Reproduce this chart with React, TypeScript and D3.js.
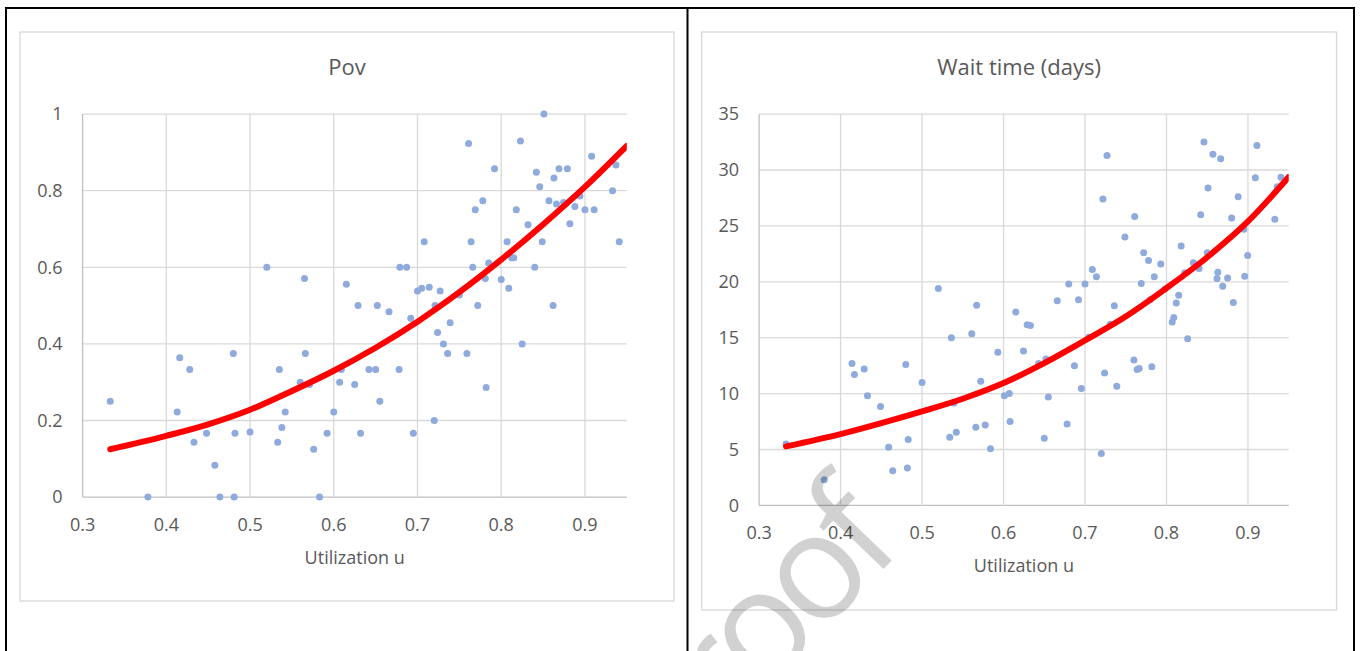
import React from "react";
import * as d3 from "d3";

// ---------- data ----------
const povU = [0.333,0.378,0.413,0.416,0.428,0.433,0.448,0.458,0.464,0.48,0.481,0.482,0.5,0.52,0.533,0.535,0.538,0.542,0.56,0.565,0.566,0.571,0.576,0.583,0.592,0.6,0.607,0.609,0.615,0.625,0.629,0.632,0.642,0.65,0.652,0.655,0.666,0.678,0.679,0.687,0.692,0.695,0.7,0.705,0.708,0.714,0.72,0.721,0.724,0.727,0.731,0.736,0.739,0.75,0.759,0.761,0.764,0.766,0.769,0.772,0.778,0.781,0.782,0.785,0.792,0.8,0.807,0.809,0.8125,0.815,0.818,0.823,0.825,0.832,0.84,0.842,0.846,0.849,0.851,0.857,0.862,0.863,0.866,0.869,0.8745,0.879,0.882,0.888,0.894,0.9,0.908,0.911,0.933,0.937,0.941];
const povV = [0.25,0,0.222,0.364,0.333,0.143,0.167,0.083,0,0.375,0,0.167,0.17,0.6,0.143,0.333,0.182,0.222,0.3,0.571,0.375,0.294,0.125,0,0.167,0.222,0.3,0.333,0.556,0.294,0.5,0.167,0.333,0.333,0.5,0.25,0.484,0.333,0.6,0.6,0.467,0.167,0.538,0.545,0.667,0.548,0.2,0.5,0.43,0.538,0.4,0.375,0.455,0.528,0.375,0.923,0.667,0.6,0.75,0.5,0.774,0.571,0.286,0.611,0.857,0.568,0.667,0.545,0.625,0.625,0.75,0.93,0.4,0.711,0.6,0.848,0.81,0.667,1.0,0.774,0.5,0.833,0.765,0.857,0.769,0.857,0.714,0.759,0.786,0.75,0.89,0.75,0.8,0.867,0.667];

const waitU = [0.333,0.38,0.414,0.417,0.429,0.433,0.449,0.459,0.464,0.48,0.482,0.483,0.5,0.52,0.534,0.536,0.539,0.542,0.561,0.566,0.567,0.572,0.5775,0.584,0.593,0.601,0.607,0.608,0.615,0.6245,0.629,0.633,0.643,0.65,0.652,0.655,0.666,0.678,0.68,0.687,0.692,0.6955,0.7,0.7045,0.709,0.714,0.72,0.722,0.724,0.727,0.731,0.736,0.739,0.749,0.76,0.761,0.764,0.7665,0.769,0.772,0.778,0.78,0.782,0.785,0.793,0.798,0.807,0.809,0.812,0.815,0.818,0.8225,0.826,0.833,0.84,0.842,0.846,0.85,0.851,0.857,0.862,0.863,0.8665,0.869,0.875,0.88,0.882,0.888,0.895,0.896,0.8996,0.909,0.911,0.933,0.936,0.9405];
const waitW = [5.5,2.3,12.7,11.7,12.2,9.8,8.85,5.2,3.1,12.6,3.35,5.9,11.0,19.4,6.1,15.0,9.15,6.55,15.35,7.0,17.9,11.1,7.2,5.07,13.7,9.8,10.0,7.5,17.3,13.8,16.15,16.1,12.7,6.0,13.1,9.7,18.3,7.27,19.8,12.5,18.4,10.45,19.8,15.05,21.1,20.45,4.65,27.4,11.85,31.3,16.2,17.85,10.65,24.0,13.0,25.85,12.15,12.25,19.85,22.6,21.9,18.4,12.4,20.45,21.6,19.35,16.4,16.8,18.1,18.8,23.2,20.8,14.9,21.7,21.2,26.0,32.5,22.6,28.4,31.4,20.3,20.85,31.0,19.6,20.35,25.7,18.15,27.6,24.7,20.5,22.35,29.3,32.2,25.6,28.5,29.35];

// trend lines
const trendU = [0.333,0.4,0.45,0.5,0.55,0.6,0.65,0.7,0.75,0.8,0.85,0.9,0.95];
const povTrend = [0.125,0.16,0.19,0.228,0.277,0.33,0.39,0.458,0.535,0.62,0.712,0.81,0.917];
const waitTrend = [5.28,6.38,7.36,8.41,9.54,10.94,12.73,14.76,16.9,19.44,22.2,25.4,29.37];

const xTicks = [0.3,0.4,0.5,0.6,0.7,0.8,0.9];
const povTicks = [0,0.2,0.4,0.6,0.8,1];
const waitTicks = [0,5,10,15,20,25,30,35];

const FONT = "'Open Sans', 'Noto Sans', sans-serif";
const TXT = "#595959";
const DOT = "#8faadc";

type PanelProps = {
  id: string;
  title: string;
  box: [number, number, number, number];
  plot: [number, number, number, number];
  yMax: number;
  yTicks: number[];
  xs: number[];
  ys: number[];
  trend: number[];
  titleY: number;
  axisTitleY: number;
};

function Panel(p: PanelProps) {
  const [bx0, by0, bx1, by1] = p.box;
  const [px0, py0, px1, py1] = p.plot;
  const x = d3.scaleLinear().domain([0.3, 0.95]).range([px0, px1]);
  const y = d3.scaleLinear().domain([0, p.yMax]).range([py1, py0]);
  const line = d3
    .line<number>()
    .x((_, i) => x(trendU[i]))
    .y((d) => y(d))
    .curve(d3.curveMonotoneX);
  const fmt = (v: number) => String(v);
  return (
    <g>
      <rect x={bx0} y={by0} width={bx1 - bx0} height={by1 - by0} fill="#fff" stroke="#d9d9d9" strokeWidth={1.3} />
      {p.yTicks.map((t) => (
        <line key={"h" + t} x1={px0} x2={px1} y1={y(t)} y2={y(t)} stroke={t === 0 ? "#bfbfbf" : "#d9d9d9"} strokeWidth={1.3} />
      ))}
      {xTicks.map((t) => (
        <line key={"v" + t} x1={x(t)} x2={x(t)} y1={py0} y2={py1} stroke={t === 0.3 ? "#bfbfbf" : "#d9d9d9"} strokeWidth={1.3} />
      ))}
      {p.yTicks.map((t) => (
        <text key={"yl" + t} x={px0 - 20} y={y(t)} dy="0.35em" textAnchor="end" fontSize={18} fill={TXT} fontFamily={FONT}>
          {fmt(t)}
        </text>
      ))}
      {xTicks.map((t) => (
        <text key={"xl" + t} x={x(t)} y={py1 + 34} textAnchor="middle" fontSize={18} fill={TXT} fontFamily={FONT}>
          {fmt(t)}
        </text>
      ))}
      {p.xs.map((u, i) => (
        <circle key={"c" + i} cx={x(u)} cy={y(p.ys[i])} r={3.5} fill={DOT} />
      ))}
      <clipPath id={p.id + "clip"}>
        <rect x={px0 - 20} y={py0 - 20} width={px1 - px0 + 20} height={py1 - py0 + 40} />
      </clipPath>
      <path d={line(p.trend) || ""} fill="none" stroke="#ff0000" strokeWidth={6} strokeLinecap="round" clipPath={`url(#${p.id}clip)`} />
      <text x={(bx0 + bx1) / 2} y={p.titleY} textAnchor="middle" fontSize={22} fill={TXT} fontFamily={FONT}>
        {p.title}
      </text>
      <text x={(px0 + px1) / 2} y={p.axisTitleY} textAnchor="middle" fontSize={18} fill={TXT} fontFamily={FONT}>
        Utilization u
      </text>
    </g>
  );
}

export default function App() {
  return (
    <svg width={1362} height={651} style={{ position: "absolute", left: 0, top: 0, background: "#fff" }}>
      <rect x={0} y={0} width={1362} height={651} fill="#fff" />
      <Panel
        id="pov"
        title="Pov"
        box={[20, 32, 674, 601]}
        plot={[82.6, 114.1, 626.8, 497.1]}
        yMax={1}
        yTicks={povTicks}
        xs={povU}
        ys={povV}
        trend={povTrend}
        titleY={75}
        axisTitleY={564}
      />
      <Panel
        id="wait"
        title="Wait time (days)"
        box={[701.7, 32, 1336.5, 610]}
        plot={[759.1, 114.1, 1288.7, 505.4]}
        yMax={35}
        yTicks={waitTicks}
        xs={waitU}
        ys={waitW}
        trend={waitTrend}
        titleY={75}
        axisTitleY={572}
      />
      {/* document table borders */}
      <line x1={6} x2={1354} y1={8} y2={8} stroke="#000" strokeWidth={2} />
      <line x1={6} x2={6} y1={7} y2={651} stroke="#000" strokeWidth={2} />
      <line x1={687.5} x2={687.5} y1={7} y2={651} stroke="#000" strokeWidth={2} />
      <line x1={1354} x2={1354} y1={7} y2={651} stroke="#000" strokeWidth={2} />
      {/* watermark */}
      <text
        x={900}
        y={552}
        textAnchor="end"
        fontSize={148}
        fontWeight={500}
        letterSpacing={-10}
        fontFamily="'Open Sans', 'Noto Sans', sans-serif"
        fill="#000"
        fillOpacity={0.18}
        transform="rotate(-46 900 552)"
      >
        Proof
      </text>
    </svg>
  );
}
